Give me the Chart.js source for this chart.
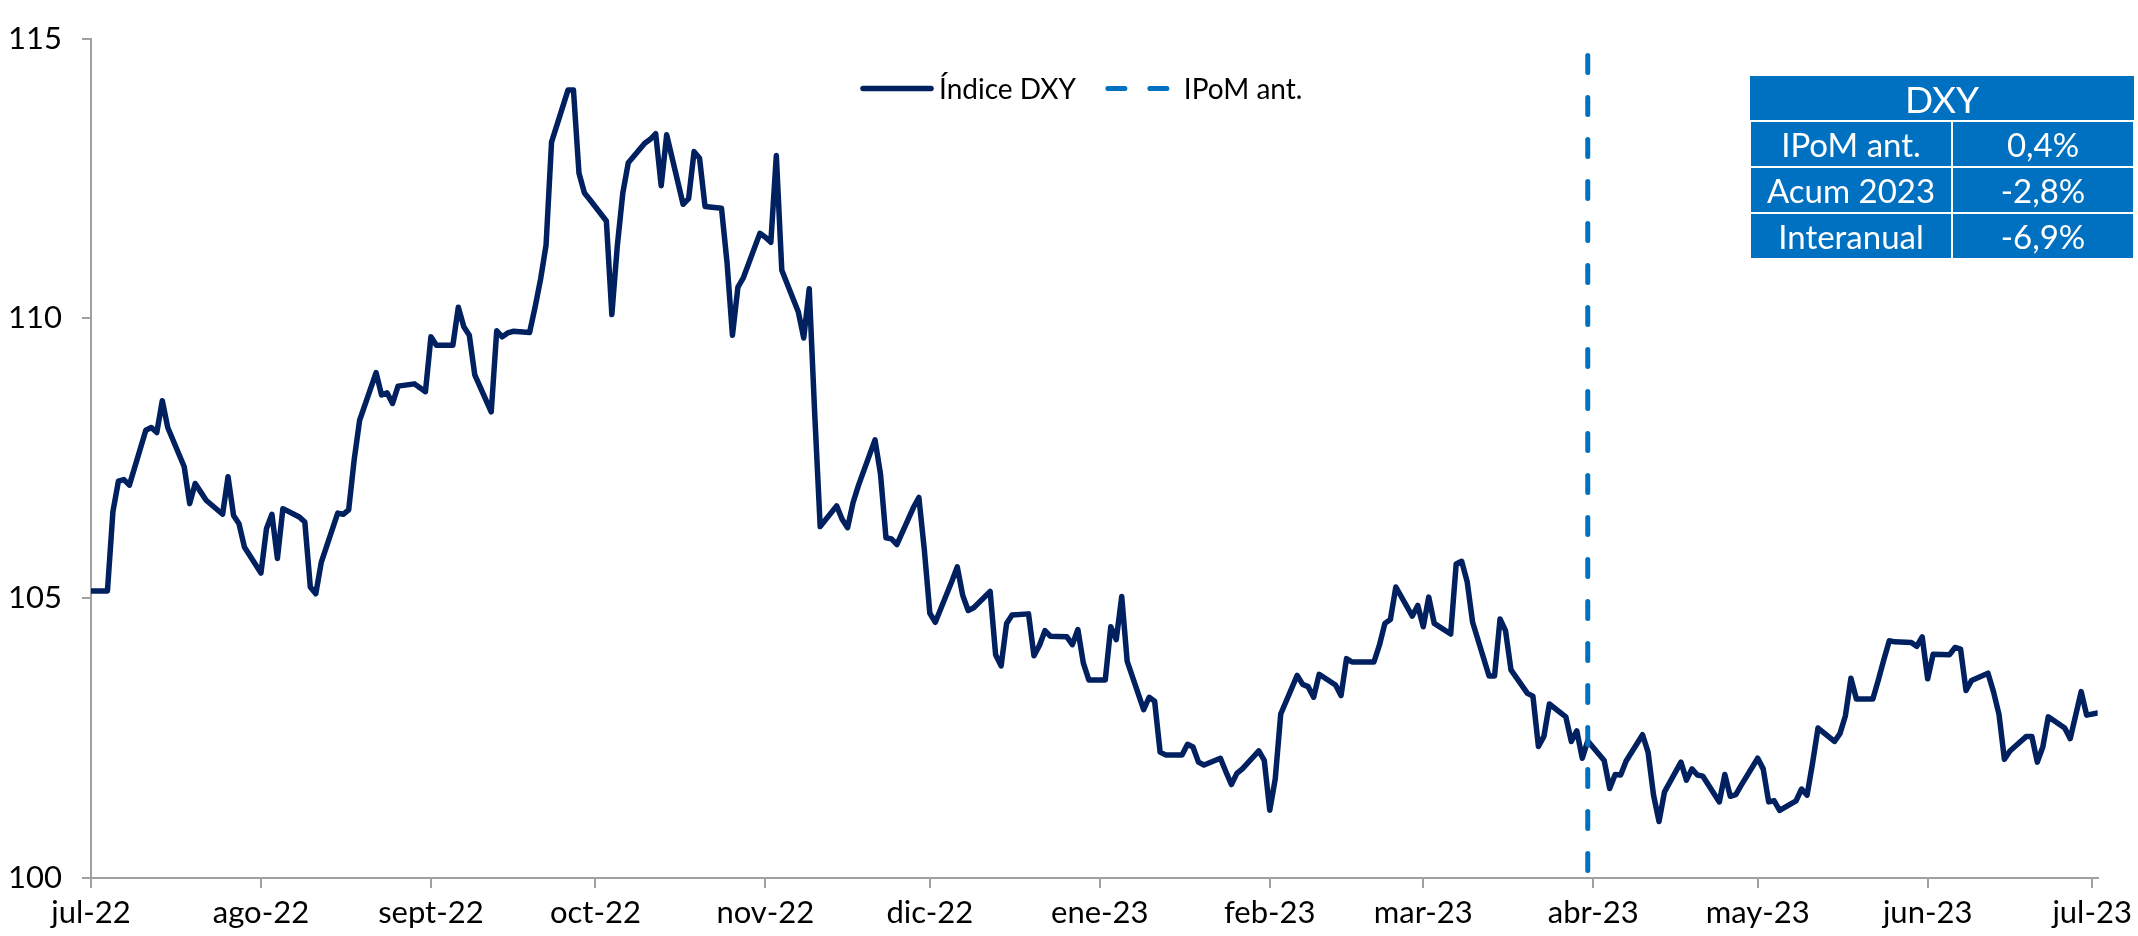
<!DOCTYPE html>
<html lang="es">
<head>
<meta charset="utf-8">
<title>Índice DXY</title>
<script src="https://cdn.jsdelivr.net/npm/chart.js@4.4.1/dist/chart.umd.min.js"></script>
<style>
  html, body { margin: 0; padding: 0; background: #fff; }
  #wrap { position: relative; width: 2138px; height: 936px; }
  #tabla {
    position: absolute; left: 1749px; top: 76px; width: 386px;
    border-collapse: collapse; font-family: Lato, sans-serif; font-size: 33px; color: #fff;
  }
  #tabla th, #tabla td {
    background: #0070C0; height: 44px; padding: 0; text-align: center;
    line-height: 1; border: 2px solid #fff; font-weight: normal;
  }
  #tabla th { border-top: none; border-left: none; border-right: none; font-size: 37px; }
  #tabla td:first-child { width: 200px; }
</style>
</head>
<body>
<div id="wrap">
  <canvas id="grafico"></canvas>
  <table id="tabla"></table>
</div>
<script>
// dias desde el 1 de julio de 2022
const dias = [
  0, 3, 4, 5, 6, 7, 10, 11, 12, 13, 14, 17, 18, 19, 20, 21, 24, 25, 26, 27, 28,          // jul-22
  31, 32, 33, 34, 35, 38, 39, 40, 41, 42, 45, 46, 47, 48, 49, 52, 53, 54, 55, 56, 59, 60, 61, // ago-22
  62, 63, 66, 67, 68, 69, 70, 73, 74, 75, 76, 77, 80, 81, 82, 83, 84, 87, 88, 89, 90, 91,  // sept-22
  94, 95, 96, 97, 98, 101, 102, 103, 104, 105, 108, 109, 110, 111, 112, 115, 116, 117, 118, 119, 122, // oct-22
  123, 124, 125, 126, 129, 130, 131, 132, 133, 136, 137, 138, 139, 140, 143, 144, 145, 146, 147, 150, 151, 152, // nov-22
  153, 154, 157, 158, 159, 160, 161, 164, 165, 166, 167, 168, 171, 172, 173, 174, 175, 178, 179, 180, 181, 182, // dic-22
  185, 186, 187, 188, 189, 192, 193, 194, 195, 196, 199, 200, 201, 202, 203, 206, 207, 208, 209, 210, 213, 214, // ene-23
  215, 216, 217, 220, 221, 222, 223, 224, 227, 228, 229, 230, 231, 234, 235, 236, 237, 238, 241, 242, // feb-23
  243, 244, 245, 248, 249, 250, 251, 252, 255, 256, 257, 258, 259, 262, 263, 264, 265, 266, 269, 270, 271, 272, 273, // mar-23
  276, 277, 278, 279, 280, 283, 284, 285, 286, 287, 290, 291, 292, 293, 294, 297, 298, 299, 300, 301, // abr-23
  304, 305, 306, 307, 308, 311, 312, 313, 314, 315, 318, 319, 320, 321, 322, 325, 326, 327, 328, 329, 332, 333, 334, // may-23
  335, 336, 339, 340, 341, 342, 343, 346, 347, 348, 349, 350, 353, 354, 355, 356, 357, 360, 361, 363, 364, // jun-23
  366 // jul-23
];
const dxy = [
  105.13, 105.13, 106.55, 107.09, 107.12, 107.02, 108.00, 108.05, 107.96, 108.53, 108.05, 107.35, 106.69, 107.05, 106.90, 106.75, 106.50, 107.17, 106.48, 106.33, 105.91,
  105.45, 106.24, 106.50, 105.71, 106.60, 106.45, 106.36, 105.20, 105.08, 105.64, 106.52, 106.50, 106.58, 107.47, 108.18, 109.03, 108.63, 108.67, 108.48, 108.79, 108.83, 108.76, 108.69,
  109.67, 109.52, 109.52, 110.20, 109.85, 109.70, 108.99, 108.33, 109.78, 109.67, 109.74, 109.77, 109.75, 110.20, 110.70, 111.31, 113.15, 114.08, 114.08, 112.60, 112.24, 112.12,
  111.74, 110.07, 111.30, 112.24, 112.78, 113.13, 113.20, 113.30, 112.37, 113.28, 112.04, 112.14, 112.98, 112.86, 112.00, 111.97, 111.01, 109.70, 110.56, 110.73, 111.52,
  111.45, 111.36, 112.91, 110.86, 110.12, 109.65, 110.53, 108.30, 106.28, 106.65, 106.41, 106.26, 106.71, 107.02, 107.83, 107.22, 106.08, 106.06, 105.96, 106.62, 106.80, 105.86,
  104.73, 104.57, 105.30, 105.56, 105.05, 104.78, 104.83, 105.12, 103.99, 103.79, 104.55, 104.70, 104.72, 103.97, 104.16, 104.42, 104.32, 104.31, 104.17, 104.44, 103.84, 103.54,
  103.54, 104.49, 104.26, 105.03, 103.87, 103.01, 103.23, 103.16, 102.25, 102.20, 102.20, 102.39, 102.34, 102.07, 102.02, 102.14, 101.90, 101.67, 101.87, 101.95, 102.27, 102.10,
  101.21, 101.77, 102.93, 103.62, 103.46, 103.42, 103.23, 103.64, 103.45, 103.26, 103.92, 103.86, 103.86, 103.86, 104.16, 104.55, 104.62, 105.20, 104.68, 104.87,
  104.49, 105.02, 104.55, 104.36, 105.61, 105.66, 105.30, 104.57, 103.61, 103.61, 104.63, 104.42, 103.72, 103.30, 103.25, 102.35, 102.53, 103.11, 102.88, 102.44, 102.63, 102.14, 102.45,
  102.10, 101.60, 101.85, 101.84, 102.09, 102.56, 102.25, 101.48, 101.01, 101.54, 102.07, 101.75, 101.95, 101.84, 101.82, 101.36, 101.85, 101.46, 101.49, 101.66,
  102.14, 101.95, 101.36, 101.38, 101.21, 101.38, 101.59, 101.48, 102.05, 102.68, 102.44, 102.58, 102.90, 103.57, 103.20, 103.20, 103.54, 103.90, 104.24, 104.22, 104.21, 104.14, 104.31,
  103.56, 104.00, 103.99, 104.12, 104.09, 103.35, 103.53, 103.66, 103.33, 102.93, 102.12, 102.27, 102.53, 102.53, 102.07, 102.34, 102.88, 102.68, 102.49, 103.33, 102.91,
  102.95
];

// linea vertical del IPoM anterior
const ipomDia = [273, 273];
const ipomValor = [114.7, 100];

// eje x: inicio de cada mes
const mesesDias = [0, 31, 62, 92, 123, 153, 184, 215, 243, 274, 304, 335, 365];
const mesesEtiquetas = ['jul-22', 'ago-22', 'sept-22', 'oct-22', 'nov-22', 'dic-22', 'ene-23',
  'feb-23', 'mar-23', 'abr-23', 'may-23', 'jun-23', 'jul-23'];

// cuadro resumen
const tablaTitulo = 'DXY';
const tablaFilas = ['IPoM ant.', 'Acum 2023', 'Interanual'];
const tablaValores = ['0,4%', '-2,8%', '-6,9%'];

/* cuadro DXY */
const tabla = document.getElementById('tabla');
let html = '<tr><th colspan="2">' + tablaTitulo + '</th></tr>';
tablaFilas.forEach((f, i) => {
  html += '<tr><td>' + f + '</td><td>' + tablaValores[i] + '</td></tr>';
});
tabla.innerHTML = html;

/* leyenda dentro del area del grafico, arriba al centro */
const leyenda = {
  id: 'leyenda',
  afterDraw(chart) {
    const ctx = chart.ctx;
    const area = chart.chartArea;
    const y = area.top + 50;
    let x = area.left + 770;
    ctx.save();
    ctx.font = '28px Lato';
    ctx.textBaseline = 'middle';
    chart.data.datasets.forEach((ds) => {
      ctx.strokeStyle = ds.borderColor;
      ctx.lineWidth = ds.borderWidth;
      ctx.lineCap = 'round';
      ctx.setLineDash(ds.borderDash || []);
      ctx.beginPath();
      ctx.moveTo(x + 2, y);
      ctx.lineTo(x + 70, y);
      ctx.stroke();
      ctx.setLineDash([]);
      ctx.fillStyle = '#000';
      ctx.fillText(ds.label, x + 78, y + 1);
      x += 78 + ctx.measureText(ds.label).width + 30;
    });
    ctx.restore();
  }
};

/* grafico */
const gris = '#a0a0a0';
const fuenteEje = { family: 'Lato', size: 31 };

new Chart(document.getElementById('grafico'), {
  type: 'line',
  data: {
    datasets: [
      {
        label: 'Índice DXY',
        data: dias.map((d, i) => ({ x: d, y: dxy[i] })),
        borderColor: '#002060',
        borderWidth: 5.5,
        borderJoinStyle: 'round',
        borderCapStyle: 'round',
        pointRadius: 0,
        tension: 0,
        order: 1
      },
      {
        label: 'IPoM ant.',
        data: ipomDia.map((d, i) => ({ x: d, y: ipomValor[i] })),
        borderColor: '#0070C0',
        borderWidth: 5,
        borderDash: [17, 25],
        borderCapStyle: 'round',
        pointRadius: 0,
        order: 0
      }
    ]
  },
  options: {
    responsive: true,
    maintainAspectRatio: false,
    animation: false,
    layout: { padding: { top: 27, right: 34, left: 0, bottom: 0 } },
    scales: {
      x: {
        type: 'linear',
        min: 0,
        max: 366,
        afterBuildTicks: (s) => { s.ticks = mesesDias.map(v => ({ value: v })); },
        afterFit: (s) => { s.height = 58; },
        ticks: {
          callback: (v, i) => mesesEtiquetas[i],
          autoSkip: false,
          maxRotation: 0,
          color: '#000',
          font: fuenteEje,
          padding: 6
        },
        grid: { drawOnChartArea: false, tickLength: 10, color: gris, lineWidth: 2 },
        border: { color: gris, width: 2 }
      },
      y: {
        min: 100,
        max: 115,
        afterFit: (s) => { s.width = 91; },
        ticks: { stepSize: 5, color: '#000', font: fuenteEje, padding: 20 },
        grid: { drawOnChartArea: false, tickLength: 9, color: gris, lineWidth: 2 },
        border: { color: gris, width: 2 }
      }
    },
    plugins: {
      legend: { display: false },
      tooltip: { enabled: false }
    }
  },
  plugins: [leyenda]
});
</script>
</body>
</html>
